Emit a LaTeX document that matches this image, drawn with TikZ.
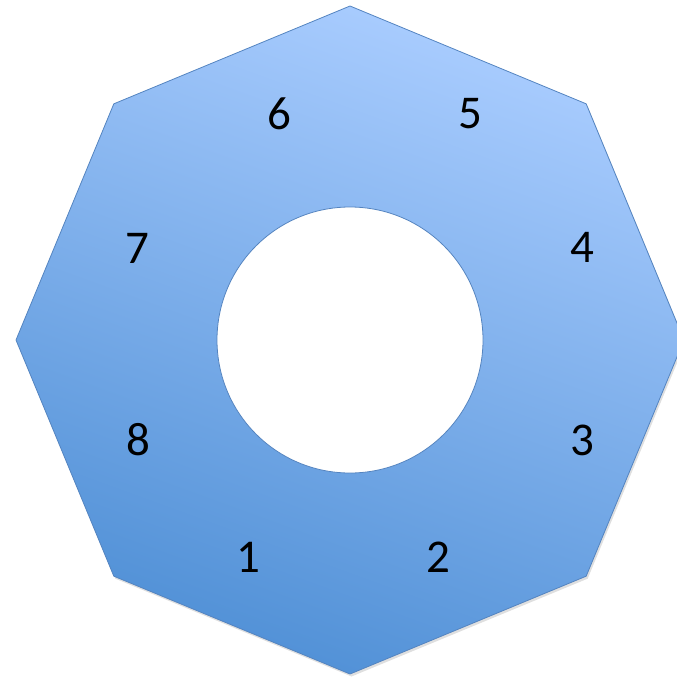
\documentclass[tikz,border=0pt]{standalone}
\usepackage{fontspec}
\setmainfont{Carlito}
\usetikzlibrary{shadows}

\definecolor{octlight}{RGB}{170,205,255}
\definecolor{octdark}{RGB}{80,144,214}
\definecolor{octedge}{RGB}{84,132,192}

\begin{document}
\begin{tikzpicture}[
  x=1pt, y=-1pt,
  ring/.style={top color=octlight, bottom color=octdark, shading angle=-20,
               draw=octedge, line width=0.8pt,
               drop shadow={opacity=0.25, shadow xshift=1.5pt, shadow yshift=-2.5pt}},
  hole/.style={fill=white, draw=octedge, line width=0.8pt},
  num/.style={font=\fontsize{47}{47}\selectfont, inner sep=0pt}
]
\clip (0,0) rectangle (677,677);
\coordinate (c) at (350,340);

% octagon with hole
\shade[ring] (c) +(0:334) -- +(45:334) -- +(90:334) -- +(135:334)
  -- +(180:334) -- +(225:334) -- +(270:334) -- +(315:334) -- cycle;
\draw[hole] (c) circle[radius=133];

% numbers
\node[num] (n1) at (248,557) {1};
\node[num] (n2) at (438,557) {2};
\node[num] (n3) at (582,440) {3};
\node[num] (n4) at (582,247) {4};
\node[num] (n5) at (470,114) {5};
\node[num] (n6) at (279,114) {6};
\node[num] (n7) at (137,248) {7};
\node[num] (n8) at (138,440) {8};
\end{tikzpicture}
\end{document}
